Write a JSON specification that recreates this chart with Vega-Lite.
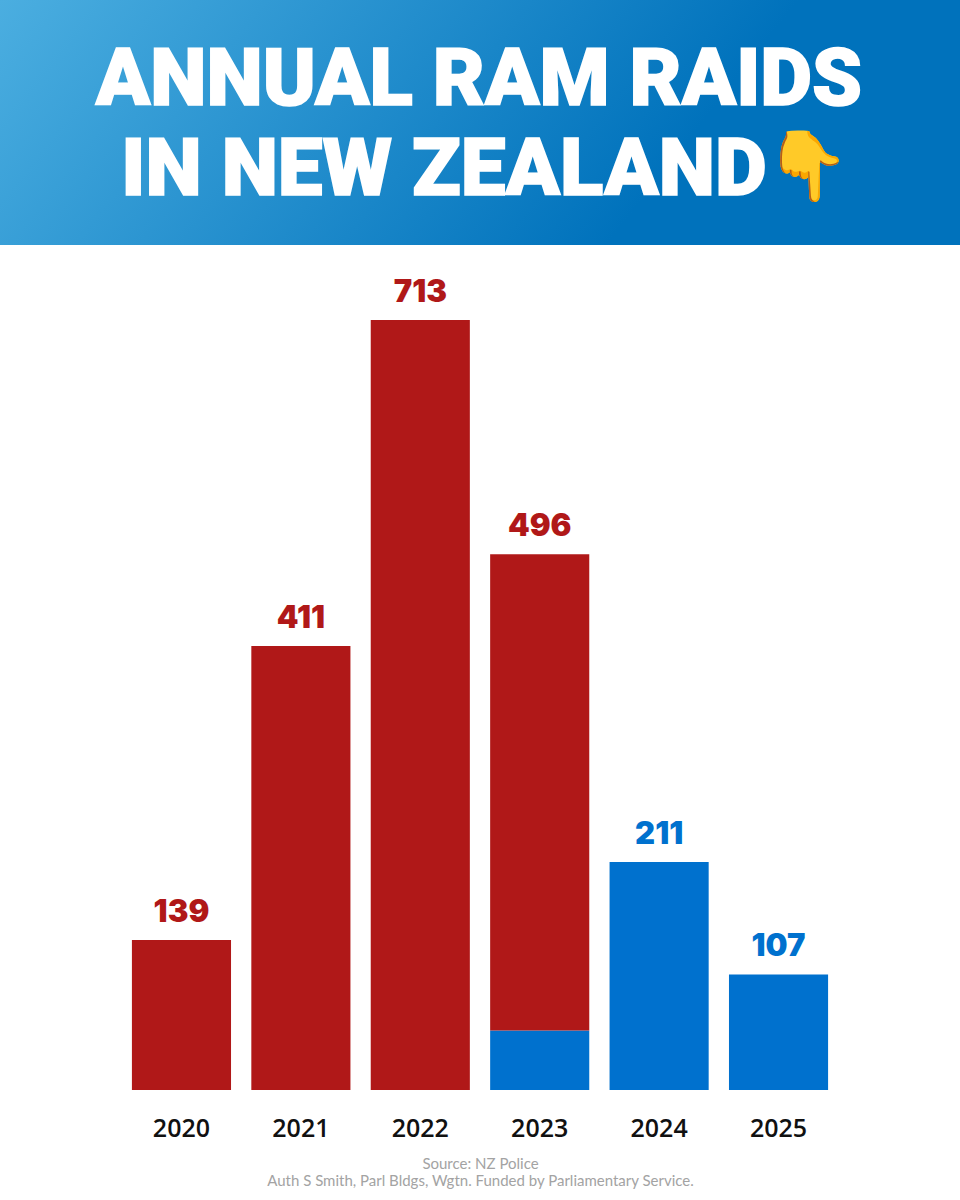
{"$schema":"https://vega.github.io/schema/vega-lite/v6.json","width":960,"height":1090,"autosize":{"type":"none"},"padding":{"left":0,"top":0,"right":0,"bottom":110},"background":"#ffffff","config":{"view":{"stroke":null}},
"datasets":{"bars":[{"year":"2020","period":"before","raids":139,"ord":2},{"year":"2021","period":"before","raids":411,"ord":2},{"year":"2022","period":"before","raids":713,"ord":2},{"year":"2023","period":"after","raids":55,"ord":1},{"year":"2023","period":"before","raids":441,"ord":2},{"year":"2024","period":"after","raids":211,"ord":1},{"year":"2025","period":"after","raids":107,"ord":1}],
"totals":[{"year":"2020","period":"before","total":139},{"year":"2021","period":"before","total":411},{"year":"2022","period":"before","total":713},{"year":"2023","period":"before","total":496},{"year":"2024","period":"after","total":211},{"year":"2025","period":"after","total":107}],
"head1":[{"line":"ANNUAL RAM RAIDS","level":934}],"head2":[{"line":"IN NEW ZEALAND","level":851}],"head3":[{"line":"👇","level":853}]},
"layer":[
{"data":{"values":[{"a":782.4,"b":1009.26}]},"mark":{"type":"rect","color":{"gradient":"linear","x1":0,"y1":0,"x2":1,"y2":0.2,"stops":[{"offset":0,"color":"#4BAEE0"},{"offset":0.8,"color":"#0072BC"},{"offset":1,"color":"#0072BC"}]}},"encoding":{"y":{"field":"a","type":"quantitative","scale":{"domain":[0,1009.26],"nice":false,"zero":false},"axis":null},"y2":{"field":"b"}}},
{"data":{"name":"head1"},"mark":{"type":"text","font":"Roboto","fontWeight":900,"fontSize":80,"color":"#ffffff","stroke":"#ffffff","strokeWidth":1.6,"align":"center","baseline":"middle","dx":-1},"encoding":{"y":{"field":"level","type":"quantitative"},"text":{"field":"line"}}},
{"data":{"name":"head2"},"mark":{"type":"text","font":"Roboto","fontWeight":900,"fontSize":80,"color":"#ffffff","stroke":"#ffffff","strokeWidth":1.6,"align":"center","baseline":"middle","dx":-36},"encoding":{"y":{"field":"level","type":"quantitative"},"text":{"field":"line"}}},
{"data":{"name":"head3"},"mark":{"type":"text","fontSize":68,"align":"center","baseline":"middle","dx":327},"encoding":{"y":{"field":"level","type":"quantitative"},"text":{"field":"line"}}},
{"data":{"name":"bars"},"mark":{"type":"bar"},"encoding":{"x":{"field":"year","type":"nominal","sort":null,"scale":{"paddingInner":0.17,"paddingOuter":1,"range":[12.5,947.5]},"axis":{"title":["Source: NZ Police","Auth S Smith, Parl Bldgs, Wgtn. Funded by Parliamentary Service."],"titleFont":"Lato","titleFontWeight":400,"titleFontSize":15,"titleLineHeight":17,"titleColor":"#A3A3A3","titlePadding":15,"labelFont":"Open Sans","labelFontWeight":600,"labelFontSize":25,"labelColor":"#111111","labelAngle":0,"labelPadding":26,"ticks":false,"domain":false,"grid":false}},"y":{"field":"raids","type":"quantitative","stack":"zero"},"order":{"field":"ord"},"color":{"field":"period","type":"nominal","legend":null,"scale":{"domain":["before","after"],"range":["#B01818","#0071CE"]}}}},
{"data":{"name":"totals"},"mark":{"type":"text","font":"Inter","fontWeight":900,"fontSize":31,"baseline":"bottom","dy":-11},"encoding":{"x":{"field":"year","type":"nominal","sort":null},"y":{"field":"total","type":"quantitative"},"text":{"field":"total"},"color":{"field":"period","type":"nominal","legend":null}}}
]}
